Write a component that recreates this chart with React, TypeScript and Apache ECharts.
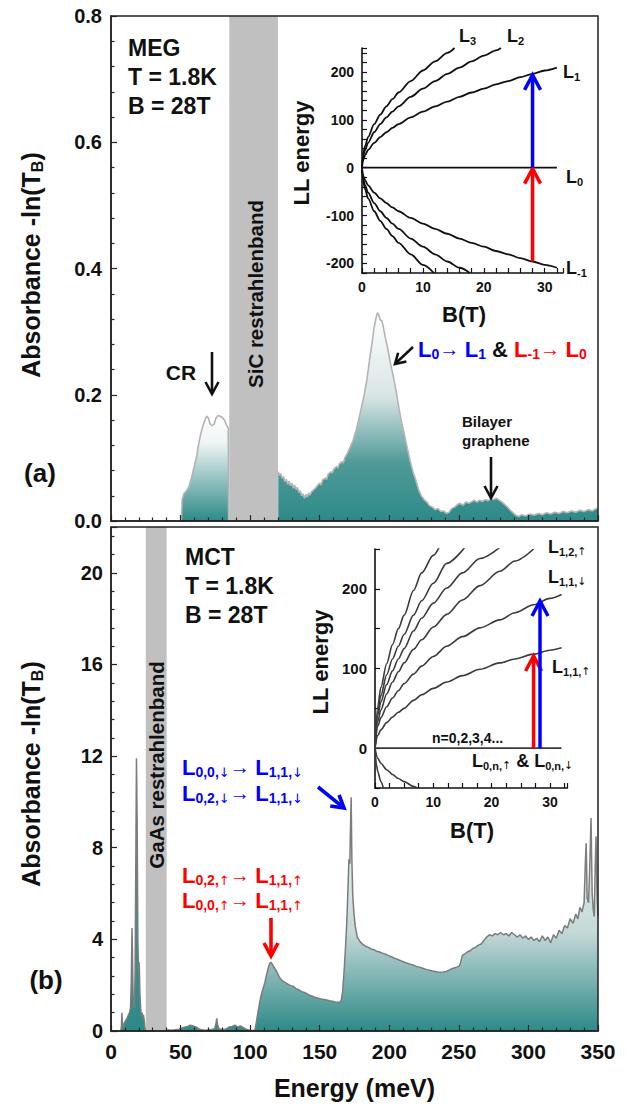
import React, { useEffect, useRef } from 'react';
import * as echarts from 'echarts';

// ---------------- DATA ----------------
const energyTicks = [0, 50, 100, 150, 200, 250, 300, 350];
const sicBand = [85, 120];
const gaasBand = [25, 40];

// (a) MEG spectrum: [energy meV, absorbance]
const megCrSpectrum: number[][] = [
  [50.5, 0], [51.2, 0.035], [52.5, 0.044], [54, 0.047], [56, 0.054], [58, 0.07], [60, 0.088], [61.5, 0.102],
  [63, 0.122], [64.5, 0.138], [66, 0.15], [67.5, 0.16], [68.8, 0.166], [70, 0.163], [71.2, 0.154], [72.5, 0.151],
  [74, 0.153], [75.5, 0.163], [77, 0.167], [78.5, 0.166], [80, 0.164], [81.5, 0.16], [83, 0.152], [84.3, 0.147], [84.5, 0],
];
const megMainSpectrum: number[][] = [
  [120.2, 0.078], [121, 0.072], [122, 0.075], [123, 0.068], [124, 0.07], [125, 0.062], [126, 0.066], [127, 0.058],
  [128, 0.063], [129, 0.056], [130, 0.06], [131, 0.052], [132, 0.057], [133, 0.05], [134, 0.053], [135, 0.045],
  [136, 0.048], [137, 0.04], [138, 0.043], [139, 0.036], [140, 0.042], [141, 0.038], [142, 0.044], [143, 0.041],
  [144, 0.046], [146, 0.05], [148, 0.055], [150, 0.06], [151, 0.057], [152, 0.065], [154, 0.068], [155, 0.066],
  [156, 0.074], [158, 0.078], [159, 0.076], [160, 0.082], [162, 0.086], [163, 0.084], [164, 0.09], [166, 0.094],
  [167, 0.092], [168, 0.1], [170, 0.108], [172, 0.118], [174, 0.128], [176, 0.142], [178, 0.16], [180, 0.18],
  [182, 0.2], [184, 0.225], [186, 0.258], [187.5, 0.28], [189, 0.305], [190.5, 0.322], [191.5, 0.33], [192.5, 0.326],
  [193.5, 0.318], [194.5, 0.318], [195.5, 0.31], [197, 0.292], [199, 0.272], [201, 0.248], [203, 0.228], [205, 0.205],
  [207, 0.178], [209, 0.155], [211, 0.135], [213, 0.115], [215, 0.095], [217, 0.078], [219, 0.065], [221, 0.05],
  [223, 0.04], [225, 0.034], [227, 0.03], [229, 0.024], [231, 0.022], [233, 0.018], [235, 0.02], [237, 0.015],
  [239, 0.016], [241, 0.012], [243, 0.014], [245, 0.02], [247, 0.022], [249, 0.026], [251, 0.028], [253, 0.025],
  [255, 0.03], [257, 0.028], [259, 0.03], [261, 0.033], [263, 0.03], [265, 0.033], [267, 0.031], [269, 0.034],
  [271, 0.032], [273, 0.035], [275, 0.034], [277, 0.036], [279, 0.033], [281, 0.03], [283, 0.026], [285, 0.022],
  [287, 0.017], [289, 0.013], [291, 0.009], [293, 0.007], [295, 0.01], [298, 0.008], [301, 0.011], [304, 0.009],
  [307, 0.012], [310, 0.01], [313, 0.013], [316, 0.011], [319, 0.014], [322, 0.012], [325, 0.015], [328, 0.013],
  [331, 0.016], [334, 0.014], [337, 0.017], [340, 0.015], [343, 0.018], [346, 0.016], [349, 0.02], [350, 0.02],
];

// (b) MCT spectrum
const mctLowSpectrum: number[][] = [
  [7, 0], [7.5, 0.2], [7.8, 0.8], [8.2, 0.3], [8.8, 0.15], [9.5, 0.35], [10.5, 0.45], [11.5, 0.55], [12.5, 0.7],
  [13.3, 0.8], [14, 1.0], [14.6, 2.2], [15.1, 4.5], [15.5, 3.0], [15.9, 1.5], [16.3, 1.1], [16.8, 1.0], [17.3, 2.5],
  [17.8, 7.0], [18.3, 11.9], [18.8, 9.0], [19.3, 4.0], [19.8, 2.5], [20.3, 3.0], [20.8, 1.6], [21.3, 1.0], [21.8, 0.7],
  [22.3, 0.8], [22.8, 0.6], [23.3, 0.7], [23.8, 0.5], [24.3, 0.2], [24.8, 0],
];
const mctMainSpectrum: number[][] = [
  [40.5, 0.05], [43, 0.03], [46, 0.05], [49, 0.08], [52, 0.15], [55, 0.2], [57, 0.25], [59, 0.22], [61, 0.18],
  [63, 0.1], [65, 0.05], [68, 0.03], [71, 0.05], [73, 0.08], [74.5, 0.1], [75.5, 0.35], [76, 0.55], [76.5, 0.3],
  [77.5, 0.1], [79, 0.08], [81, 0.06], [83, 0.1], [85, 0.18], [87, 0.2], [89, 0.25], [91, 0.18], [93, 0.22],
  [95, 0.15], [97, 0.08], [99, 0.04], [101, 0.02], [102.5, 0.02], [103.5, 0.05], [104.5, 0.4], [106, 0.95],
  [107.5, 1.45], [109, 1.8], [110.5, 2.1], [112, 2.5], [113, 2.75], [114, 2.95], [114.8, 3.0], [116, 2.9],
  [117.5, 2.75], [119, 2.6], [121, 2.35], [123, 2.2], [125, 2.12], [127, 2.05], [129, 1.98], [131, 1.95],
  [133, 1.85], [135, 1.8], [137, 1.72], [139, 1.68], [141, 1.62], [143, 1.55], [145, 1.52], [147, 1.46],
  [149, 1.43], [151, 1.4], [153, 1.38], [155, 1.35], [157, 1.32], [159, 1.3], [161, 1.27], [163, 1.26],
  [164.5, 1.25], [165.5, 1.35], [166.5, 1.75], [167.5, 2.6], [168.5, 3.6], [169.5, 4.8], [170.3, 6.2], [171, 7.5],
  [171.6, 7.3], [172.1, 8.8], [172.6, 10.2], [173.1, 7.5], [173.7, 6.0], [174.5, 5.2], [175.5, 4.6], [177, 4.1],
  [179, 3.9], [181, 3.78], [183, 3.7], [185, 3.65], [187, 3.58], [189, 3.55], [191, 3.48], [193, 3.45], [195, 3.4],
  [197, 3.36], [199, 3.3], [201, 3.25], [203, 3.2], [205, 3.15], [207, 3.1], [209, 3.05], [211, 3.0], [213, 2.96],
  [215, 2.92], [217, 2.88], [219, 2.83], [221, 2.8], [223, 2.76], [225, 2.72], [227, 2.68], [229, 2.65],
  [231, 2.62], [233, 2.6], [235, 2.58], [237, 2.57], [239, 2.58], [241, 2.6], [243, 2.66], [245, 2.72],
  [247, 2.76], [249, 2.8], [250.5, 2.85], [251.5, 3.05], [252.5, 3.3], [254, 3.35], [256, 3.45], [258, 3.5],
  [260, 3.6], [262, 3.65], [264, 3.75], [266, 3.8], [268, 3.95], [270, 4.1], [272, 4.2], [274, 4.15], [276, 4.25],
  [278, 4.2], [280, 4.3], [282, 4.2], [284, 4.25], [286, 4.15], [288, 4.3], [290, 4.2], [292, 4.1], [294, 4.2],
  [296, 4.05], [298, 4.15], [300, 4.0], [302, 4.1], [304, 3.95], [306, 4.05], [308, 3.9], [310, 4.15], [312, 3.95],
  [314, 4.1], [316, 3.85], [318, 4.2], [320, 4.05], [322, 4.4], [324, 4.25], [326, 4.6], [328, 4.5], [330, 4.9],
  [332, 4.7], [334, 5.1], [335.5, 4.9], [337, 5.4], [338.5, 5.2], [340, 5.6], [341, 7.5], [341.5, 8.2],
  [342.2, 5.8], [343.2, 5.6], [344, 7.0], [345, 9.3], [345.8, 6.0], [346.6, 5.3], [347.3, 5.0], [348, 7.2],
  [348.6, 8.5], [349.3, 6.0], [350, 5.0],
];

// Inset (a): graphene Landau levels [B (T), energy]
const grapheneL0: number[][] = [[0, 0], [32, 0]];
const grapheneL1: number[][] = [
  [0, 0], [0.1, 12], [0.25, 18], [0.5, 26], [1, 37], [2, 52], [3, 64], [4, 74], [5, 83], [6, 91], [8, 105], [10, 117],
  [12, 128], [14, 138], [16, 148], [18, 157], [20, 165], [22, 174], [24, 181], [26, 189], [28, 196], [30, 203], [32, 209],
];
const grapheneL2: number[][] = [
  [0, 0], [0.1, 17], [0.25, 26], [0.5, 37], [1, 52], [2, 74], [3, 91], [4, 105], [5, 117], [6, 128], [8, 148],
  [10, 165], [12, 181], [14, 196], [16, 209], [18, 222], [20, 234], [22, 245], [22.8, 250],
];
const grapheneL3: number[][] = [
  [0, 0], [0.1, 20], [0.25, 32], [0.5, 45], [1, 64], [2, 91], [3, 111], [4, 128], [5, 143], [6, 157], [8, 181],
  [10, 203], [12, 222], [14, 240], [15.2, 250],
];
const grapheneLm1: number[][] = [
  [0, 0], [0.1, -12], [0.25, -18], [0.5, -26], [1, -37], [2, -52], [3, -64], [4, -74], [5, -83], [6, -91], [8, -105],
  [10, -117], [12, -128], [14, -138], [16, -148], [18, -157], [20, -165], [22, -174], [24, -181], [26, -189],
  [28, -196], [30, -203], [32, -209],
];
const grapheneLm2: number[][] = [
  [0, 0], [0.1, -17], [0.25, -26], [0.5, -37], [1, -52], [2, -74], [3, -91], [4, -105], [5, -117], [6, -128],
  [8, -148], [10, -165], [12, -181], [14, -196], [16, -209], [17.7, -220],
];
const grapheneLm3: number[][] = [
  [0, 0], [0.1, -20], [0.25, -32], [0.5, -45], [1, -64], [2, -91], [3, -111], [4, -128], [5, -143], [6, -157],
  [8, -181], [10, -203], [11.8, -220],
];
const grapheneArrows: number[][] = [[28, -196, 0], [28, 0, 196]]; // [B, from, to]

// Inset (b): MCT Landau levels
const mctL0: number[][] = [[0, 0], [32, 0]];
const mctL11up: number[][] = [
  [0, 0], [0.5, 16], [1, 23], [2, 32], [3, 39], [4, 45], [5, 50], [6.6, 60], [8, 67], [10, 75], [12.3, 83],
  [15, 91], [18, 99], [21.4, 107], [24, 112], [27.2, 118], [30, 123], [32, 126],
];
const mctL11dn: number[][] = [
  [0, 0], [0.5, 28], [1, 38], [2, 52], [3, 63], [4, 72], [5, 81], [6.6, 93], [8, 103], [10, 115], [12.3, 128],
  [15, 140], [18, 151], [21.4, 161], [24, 170], [27.2, 180], [30, 188], [32, 193],
];
const mctL12up: number[][] = [
  [0, 0], [0.5, 34], [1, 48], [2, 68], [3, 83], [4, 96], [5, 107], [6.6, 124], [8, 136], [10, 152], [12.3, 168],
  [15, 186], [18, 204], [21.4, 222], [24, 235], [27.2, 250],
];
const mctLevelC: number[][] = [
  [0, 0], [0.5, 42], [1, 58], [2, 80], [3, 97], [4, 112], [5, 125], [6.6, 147], [8, 163], [10, 182], [12.3, 201],
  [15, 220], [18, 238], [21.4, 252],
];
const mctLevelB: number[][] = [
  [0, 0], [0.5, 47], [1, 66], [2, 92], [3, 112], [4, 128], [5, 143], [6.6, 167], [8, 185], [10, 207], [12.3, 232],
  [15.4, 252],
];
const mctLevelA: number[][] = [
  [0, 0], [0.5, 54], [1, 76], [2, 106], [3, 130], [4, 150], [5, 167], [6.6, 198], [8, 220], [10, 242], [11, 252],
];
const mctLower1: number[][] = [[0, 0], [0.5, -13], [1, -19], [2, -27], [3, -33], [4, -38], [5, -42], [6.6, -48], [7.5, -51]];
const mctLower2: number[][] = [[0, 0], [0.25, -21], [0.5, -30], [1, -42], [1.5, -52]];
const mctArrows: number[][] = [[27.2, 0, 117], [28.3, 0, 186]];

// ---------------- STYLE ----------------
const FONT = '"Liberation Sans", Arial, Helvetica, sans-serif';
const ARROWFONT = '"DejaVu Sans", "Liberation Sans", sans-serif';
const RED = '#ff0000';
const BLUE = '#0000ff';
const INK = '#111111';
const TEAL = '#2d8a88';

const grad = (stops: [number, string][]) =>
  new echarts.graphic.LinearGradient(0, 0, 0, 1, stops.map(([offset, color]) => ({ offset, color })));

const rs = (size: number, color: string, weight = 'bold', extra: any = {}) => ({
  fontSize: size, fontWeight: weight, fontFamily: FONT, fill: color, color, ...extra,
});

const txt = (x: number, y: number, text: string, size: number, extra: any = {}, rot = 0): any => ({
  type: 'text', x, y, rotation: rot, silent: true, z: 50,
  style: { text, fontSize: size, fontWeight: 'bold', fontFamily: FONT, fill: INK, align: 'left', verticalAlign: 'middle', ...extra },
});

const arrow = (x1: number, y1: number, x2: number, y2: number, color: string, w: number, hl: number, hw: number): any[] => {
  const dx = x2 - x1, dy = y2 - y1;
  const len = Math.sqrt(dx * dx + dy * dy);
  const ux = dx / len, uy = dy / len;
  const nx = -uy, ny = ux;
  const bx = x2 - ux * hl, by = y2 - uy * hl;
  return [
    { type: 'line', silent: true, z: 50, shape: { x1, y1, x2: x2 - ux * 1, y2: y2 - uy * 1 }, style: { stroke: color, lineWidth: w } },
    {
      type: 'polyline', silent: true, z: 50,
      shape: { points: [[bx + nx * hw, by + ny * hw], [x2, y2], [bx - nx * hw, by - ny * hw]] },
      style: { stroke: color, lineWidth: w, fill: null, lineJoin: 'miter' },
    },
  ];
};

const arrowRender = (colors: string[]) => (params: any, api: any) => {
  const x = api.value(0), a = api.value(1), b = api.value(2);
  const p0 = api.coord([x, a]);
  const p1 = api.coord([x, b]);
  const c = colors[params.dataIndex];
  return {
    type: 'group',
    children: [
      { type: 'line', shape: { x1: p0[0], y1: p0[1], x2: p1[0], y2: p1[1] + 2 }, style: { stroke: c, lineWidth: 3.5 } },
      {
        type: 'polyline',
        shape: { points: [[p1[0] - 8, p1[1] + 16], [p1[0], p1[1] + 1], [p1[0] + 8, p1[1] + 16]] },
        style: { stroke: c, lineWidth: 3.5, fill: null },
      },
    ],
  };
};

const mainAxisCommon = {
  type: 'value',
  z: 20,
  splitLine: { show: false },
  axisLine: { show: true, lineStyle: { color: '#222', width: 1.5 } },
  axisTick: { show: true, inside: true, length: 6, lineStyle: { color: '#222', width: 1.2 } },
  minorTick: { show: true, splitNumber: 5, length: 3.5, lineStyle: { color: '#222', width: 1.2 } },
};
const insetAxisCommon = {
  type: 'value',
  splitLine: { show: false },
  axisLine: { show: true, onZero: false, lineStyle: { color: '#111', width: 1.6 } },
  axisTick: { show: true, inside: true, length: 5, lineStyle: { color: '#111', width: 1.2 } },
};
const labelFont = (size: number, extra: any = {}) => ({ fontSize: size, fontWeight: 'bold', fontFamily: FONT, color: INK, ...extra });

const lineSeries = (data: number[][], xi: number, color: string, width: number) => ({
  type: 'line', xAxisIndex: xi, yAxisIndex: xi, data, symbol: 'none', silent: true,
  smooth: 0.3, smoothMonotone: 'x', clip: true, lineStyle: { color, width }, z: 4,
});

function buildOption(): any {
  const ll = '#111';
  const mll = '#3a3a3a';
  const sub = (c: string) => rs(14, c, 'bold', { verticalAlign: 'bottom', lineHeight: 11 });
  const subArr = (c: string) => rs(13, c, 'normal', { verticalAlign: 'bottom', lineHeight: 11, fontFamily: ARROWFONT });
  const big = (c: string) => rs(22, c, 'bold', { lineHeight: 24 });
  const arr = (c: string) => rs(20, c, 'normal', { lineHeight: 24 });
  const annRich = {
    b: big(BLUE), bs: sub(BLUE), bu: subArr(BLUE), ba: arr(BLUE),
    r: big(RED), rs: sub(RED), ru: subArr(RED), ra: arr(RED),
    k: big(INK),
  };
  const inRich = {
    L: rs(18, INK, 'bold', { lineHeight: 20 }),
    s: rs(11, INK, 'bold', { verticalAlign: 'bottom', lineHeight: 9 }),
    u: rs(11, INK, 'normal', { verticalAlign: 'bottom', lineHeight: 9, fontFamily: ARROWFONT }),
    k: rs(18, INK, 'bold', { lineHeight: 20 }),
  };
  const yRich = { m: rs(25, INK, 'bold', { lineHeight: 28 }), s: rs(16, INK, 'bold', { verticalAlign: 'bottom', lineHeight: 14 }) };
  const yName = '{m|Absorbance -ln(T}{s|B}{m|)}';

  const graphic: any[] = [
    // panel (a) texts
    txt(128, 47.5, 'MEG', 23), txt(128, 76.5, 'T = 1.8K', 23), txt(128, 106, 'B = 28T', 23),
    txt(40, 473, '(a)', 26, { align: 'center' }),
    txt(31, 265, yName, 25, { align: 'center', rich: yRich }, Math.PI / 2),
    txt(255, 294, 'SiC restrahlenband', 20.5, { align: 'center' }, Math.PI / 2),
    txt(181, 372, 'CR', 21, { align: 'center' }),
    ...arrow(212, 352, 212, 394, INK, 2.6, 12, 6.5),
    ...arrow(413, 347, 395, 364, INK, 2.6, 10, 6),
    txt(418, 349, '{b|L}{bs|0}{ba|→ }{b|L}{bs|1}{k| & }{r|L}{rs|-1}{ra|→ }{r|L}{rs|0}', 22, { rich: annRich }),
    txt(462, 421.5, 'Bilayer', 15), txt(462, 440.5, 'graphene', 15),
    ...arrow(491, 457, 491, 498, INK, 2.6, 12, 6.5),
    // inset (a) texts
    txt(301, 153, 'LL energy', 22, { align: 'center' }, Math.PI / 2),
    txt(464, 314, 'B(T)', 22, { align: 'center' }),
    txt(459, 36, '{L|L}{s|3}', 18, { rich: inRich }),
    txt(507, 36, '{L|L}{s|2}', 18, { rich: inRich }),
    txt(563, 72, '{L|L}{s|1}', 18, { rich: inRich }),
    txt(566, 177, '{L|L}{s|0}', 18, { rich: inRich }),
    txt(566, 268, '{L|L}{s|-1}', 18, { rich: inRich }),
    // panel (b) texts
    txt(185, 557, 'MCT', 23), txt(185, 586, 'T = 1.8K', 23), txt(185, 615, 'B = 28T', 23),
    txt(46, 980, '(b)', 26, { align: 'center' }),
    txt(31, 774, yName, 25, { align: 'center', rich: yRich }, Math.PI / 2),
    txt(156, 765, 'GaAs restrahlenband', 20.5, { align: 'center' }, Math.PI / 2),
    txt(182, 767, '{b|L}{bs|0,0,}{bu|↓}{ba|→ }{b|L}{bs|1,1,}{bu|↓}', 22, { rich: annRich }),
    txt(182, 793, '{b|L}{bs|0,2,}{bu|↓}{ba|→ }{b|L}{bs|1,1,}{bu|↓}', 22, { rich: annRich }),
    txt(182, 875, '{r|L}{rs|0,2,}{ru|↑}{ra|→ }{r|L}{rs|1,1,}{ru|↑}', 22, { rich: annRich }),
    txt(182, 900, '{r|L}{rs|0,0,}{ru|↑}{ra|→ }{r|L}{rs|1,1,}{ru|↑}', 22, { rich: annRich }),
    ...arrow(318, 787, 344, 808, BLUE, 3.6, 12, 7),
    ...arrow(271, 918, 271, 956, RED, 3.6, 13, 7),
    txt(354.5, 1088, 'Energy (meV)', 25, { align: 'center' }),
    // inset (b) texts
    txt(320, 662, 'LL energy', 22, { align: 'center' }, Math.PI / 2),
    txt(472, 830, 'B(T)', 22, { align: 'center' }),
    txt(548, 547, '{L|L}{s|1,2,}{u|↑}', 18, { rich: inRich }),
    txt(548, 577, '{L|L}{s|1,1,}{u|↓}', 18, { rich: inRich }),
    txt(552, 667, '{L|L}{s|1,1,}{u|↑}', 18, { rich: inRich }),
    txt(432, 738, 'n=0,2,3,4...', 14),
    txt(472, 761, '{L|L}{s|0,n,}{u|↑}{k| & }{L|L}{s|0,n,}{u|↓}', 18, { rich: inRich }),
  ];

  return {
    animation: false,
    backgroundColor: '#ffffff',
    textStyle: { fontFamily: FONT },
    grid: [
      { left: 111, top: 16, width: 487, height: 505, show: true, borderColor: '#222', borderWidth: 1.5, backgroundColor: 'transparent', z: 20 },
      { left: 111, top: 527, width: 487, height: 504, show: true, borderColor: '#222', borderWidth: 1.5, backgroundColor: 'transparent', z: 20 },
      { left: 362, top: 48, width: 201, height: 225 },
      { left: 375, top: 549, width: 192.4, height: 239 },
    ],
    xAxis: [
      { ...mainAxisCommon, gridIndex: 0, min: energyTicks[0], max: energyTicks[energyTicks.length - 1], interval: 50, axisLabel: { show: false } },
      {
        ...mainAxisCommon, gridIndex: 1, min: energyTicks[0], max: energyTicks[energyTicks.length - 1], interval: 50,
        axisLabel: { show: true, margin: 10, ...labelFont(21) },
      },
      {
        ...insetAxisCommon, gridIndex: 2, min: 0, max: 33, interval: 2,
        axisLabel: { margin: 7, formatter: (v: number) => (v % 10 === 0 ? String(v) : ''), ...labelFont(14) },
      },
      {
        ...insetAxisCommon, gridIndex: 3, min: 0, max: 33, interval: 2.5,
        axisLabel: { margin: 7, formatter: (v: number) => (v % 10 === 0 ? String(v) : ''), ...labelFont(14) },
      },
    ],
    yAxis: [
      {
        ...mainAxisCommon, gridIndex: 0, min: 0, max: 0.8, interval: 0.2,
        axisLabel: { margin: 9, formatter: (v: number) => v.toFixed(1), ...labelFont(20) },
      },
      {
        ...mainAxisCommon, gridIndex: 1, min: 0, max: 22, interval: 4,
        axisLabel: { margin: 8, formatter: (v: number) => (v % 4 === 0 ? String(v) : ''), ...labelFont(20) },
      },
      {
        ...insetAxisCommon, gridIndex: 2, min: -220, max: 250, interval: 20,
        axisLabel: { margin: 8, formatter: (v: number) => (v % 100 === 0 ? String(v) : ''), ...labelFont(14) },
      },
      {
        ...insetAxisCommon, gridIndex: 3, min: -50, max: 250, interval: 50,
        axisLabel: { margin: 8, formatter: (v: number) => (v % 100 === 0 ? String(v) : ''), ...labelFont(15) },
      },
    ],
    series: [
      {
        type: 'line', xAxisIndex: 0, yAxisIndex: 0, data: megCrSpectrum, symbol: 'none', silent: true, z: 3,
        lineStyle: { color: '#b4b4b4', width: 1.6 },
        areaStyle: { opacity: 1, color: grad([[0, '#ffffff'], [0.25, '#f0f5f5'], [1, TEAL]]) },
      },
      {
        type: 'line', xAxisIndex: 0, yAxisIndex: 0, data: megMainSpectrum, symbol: 'none', silent: true, z: 3,
        lineStyle: { color: '#b4b4b4', width: 1.6 },
        areaStyle: { opacity: 1, color: grad([[0, '#ffffff'], [0.4, '#d9e5e5'], [0.72, '#4f9a98'], [1, TEAL]]) },
        markArea: {
          silent: true, z: 2, label: { show: false },
          itemStyle: { color: '#c0c0c0', opacity: 1 },
          data: [[{ xAxis: sicBand[0] }, { xAxis: sicBand[1] }]],
        },
      },
      {
        type: 'line', xAxisIndex: 1, yAxisIndex: 1, data: mctLowSpectrum, symbol: 'none', silent: true, z: 3,
        lineStyle: { color: '#7c7c7c', width: 1.5 },
        areaStyle: { opacity: 1, color: grad([[0, '#4b9c9a'], [1, TEAL]]) },
      },
      {
        type: 'line', xAxisIndex: 1, yAxisIndex: 1, data: mctMainSpectrum, symbol: 'none', silent: true, z: 3,
        lineStyle: { color: '#7c7c7c', width: 1.5 },
        areaStyle: { opacity: 1, color: grad([[0, '#ffffff'], [0.58, '#c3d8d7'], [1, TEAL]]) },
        markArea: {
          silent: true, z: 2, label: { show: false },
          itemStyle: { color: '#c0c0c0', opacity: 1 },
          data: [[{ xAxis: gaasBand[0] }, { xAxis: gaasBand[1] }]],
        },
      },
      // inset (a)
      lineSeries(grapheneL0, 2, ll, 1.8),
      lineSeries(grapheneL1, 2, ll, 1.8),
      lineSeries(grapheneL2, 2, ll, 1.8),
      lineSeries(grapheneL3, 2, ll, 1.8),
      lineSeries(grapheneLm1, 2, ll, 1.8),
      lineSeries(grapheneLm2, 2, ll, 1.8),
      lineSeries(grapheneLm3, 2, ll, 1.8),
      {
        type: 'custom', xAxisIndex: 2, yAxisIndex: 2, data: grapheneArrows, silent: true, z: 6,
        renderItem: arrowRender([RED, BLUE]),
      },
      // inset (b)
      lineSeries(mctL0, 3, mll, 1.6),
      lineSeries(mctL11up, 3, mll, 1.6),
      lineSeries(mctL11dn, 3, mll, 1.6),
      lineSeries(mctL12up, 3, mll, 1.6),
      lineSeries(mctLevelC, 3, mll, 1.6),
      lineSeries(mctLevelB, 3, mll, 1.6),
      lineSeries(mctLevelA, 3, mll, 1.6),
      lineSeries(mctLower1, 3, mll, 1.6),
      lineSeries(mctLower2, 3, mll, 1.6),
      {
        type: 'custom', xAxisIndex: 3, yAxisIndex: 3, data: mctArrows, silent: true, z: 6,
        renderItem: arrowRender([RED, BLUE]),
      },
    ],
    graphic,
  };
}

export default function App() {
  const ref = useRef<HTMLDivElement>(null);
  useEffect(() => {
    if (!ref.current) return;
    const chart = echarts.init(ref.current, null, { renderer: 'svg', width: 627, height: 1105 });
    chart.setOption(buildOption());
    return () => chart.dispose();
  }, []);
  return <div ref={ref} style={{ position: 'absolute', left: 0, top: 0, width: 627, height: 1105, background: '#fff' }} />;
}
